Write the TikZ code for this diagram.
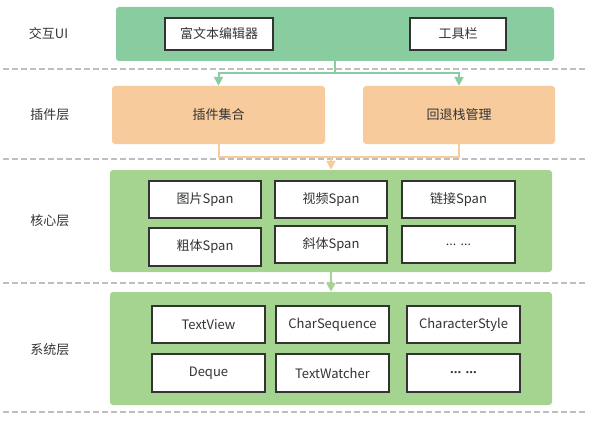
\documentclass[tikz,border=0pt]{standalone}
\usepackage{fontspec}
\setmainfont{Noto Sans CJK SC}
\newfontfamily\latinfont{Open Sans}
\usetikzlibrary{arrows.meta}
\definecolor{uigreen}{RGB}{136,204,160}
\definecolor{plugorange}{RGB}{248,203,156}
\definecolor{coregreen}{RGB}{164,212,144}
\definecolor{txt}{RGB}{51,51,51}
\definecolor{dashgray}{RGB}{190,190,190}
\tikzset{
  panel/.style={rounded corners=3pt, draw=none, inner sep=0pt, text=txt},
  item/.style={draw=txt, line width=1.8pt, fill=white, inner sep=0pt, text=txt},
  layerlabel/.style={text=txt, inner sep=0pt},
  sep/.style={draw=dashgray, line width=1.5pt, dash pattern=on 6pt off 3pt},
  gline/.style={draw=uigreen, line width=2pt},
  oline/.style={draw=plugorange, line width=2pt},
  garrow/.style={gline, -{Triangle[width=9pt,length=9pt]}},
  oarrow/.style={oline, -{Triangle[width=9pt,length=9pt]}},
  cgarrow/.style={draw=coregreen, line width=2pt, -{Triangle[width=9pt,length=9pt]}}
}
\begin{document}
\begin{tikzpicture}[x=1pt,y=-1pt,font=\fontsize{13}{15}\selectfont]
\useasboundingbox (0,0) rectangle (595,428);
% separators
\coordinate (s1a) at (3,69); \coordinate (s1b) at (587,69);
\coordinate (s2a) at (3,159); \coordinate (s2b) at (587,159);
\coordinate (s3a) at (3,283); \coordinate (s3b) at (587,283);
\coordinate (s4a) at (3,412); \coordinate (s4b) at (587,412);
\draw[sep] (s1a) -- (s1b);
\draw[sep] (s2a) -- (s2b);
\draw[sep] (s3a) -- (s3b);
\draw[sep] (s4a) -- (s4b);
% labels
\node[layerlabel] (l1) at (48.5,34) {交互UI};
\node[layerlabel] (l2) at (50,115) {插件层};
\node[layerlabel] (l3) at (50,221) {核心层};
\node[layerlabel] (l4) at (50,350) {系统层};
% UI layer
\node[panel, fill=uigreen, minimum width=438pt, minimum height=54pt] (ui) at (335,34) {};
\node[item, minimum width=108pt, minimum height=32pt] (editor) at (219,34) {富文本编辑器};
\node[item, minimum width=96pt, minimum height=32pt] (toolbar) at (458,34) {工具栏};
% plugin layer
\node[panel, fill=plugorange, minimum width=213pt, minimum height=58pt] (plug) at (218.5,115) {插件集合};
\node[panel, fill=plugorange, minimum width=192pt, minimum height=58pt] (undo) at (459,115) {回退栈管理};
% core layer
\node[panel, fill=coregreen, minimum width=442pt, minimum height=102pt] (core) at (331,221) {};
\node[item, minimum width=112pt, minimum height=37pt] (c1) at (205,199.5) {图片Span};
\node[item, minimum width=112pt, minimum height=37pt] (c2) at (331,199.5) {视频Span};
\node[item, minimum width=113pt, minimum height=37pt] (c3) at (458.5,199.5) {链接Span};
\node[item, minimum width=112pt, minimum height=38pt] (c4) at (205,247) {粗体Span};
\node[item, minimum width=112pt, minimum height=37pt] (c5) at (331,244.5) {斜体Span};
\node[item, minimum width=113pt, minimum height=37pt, font=\fontsize{13}{15}\selectfont\latinfont] (c6) at (458.5,244.5) {... ...};
% system layer
\node[panel, fill=coregreen, minimum width=442pt, minimum height=113pt] (sys) at (331,348.5) {};
\node[item, minimum width=113pt, minimum height=37pt] (s1) at (208.5,324.5) {TextView};
\node[item, minimum width=113pt, minimum height=37pt] (s2) at (332.5,324.5) {CharSequence};
\node[item, minimum width=113pt, minimum height=37pt] (s3) at (463.5,324.5) {CharacterStyle};
\node[item, minimum width=113pt, minimum height=38pt] (s4) at (208.5,373) {Deque};
\node[item, minimum width=113pt, minimum height=38pt] (s5) at (332.5,373) {TextWatcher};
\node[item, minimum width=113pt, minimum height=38pt, font=\fontsize{13}{15}\selectfont\latinfont\bfseries] (s6) at (463.5,373) {... ...};
% connectors UI -> plugin
\coordinate (gj) at (335,73);
\draw[gline] (ui.south) -- (gj);
\draw[garrow] (gj) -| (plug.north);
\draw[garrow] (gj) -| (undo.north);
% plugin -> core
\coordinate (oj) at (331,157);
\draw[oline] (plug.south) |- (oj);
\draw[oline] (undo.south) |- (oj);
\draw[oarrow] (oj) -- (core.north);
% core -> system
\draw[cgarrow] (core.south) -- (sys.north);
\end{tikzpicture}
\end{document}
